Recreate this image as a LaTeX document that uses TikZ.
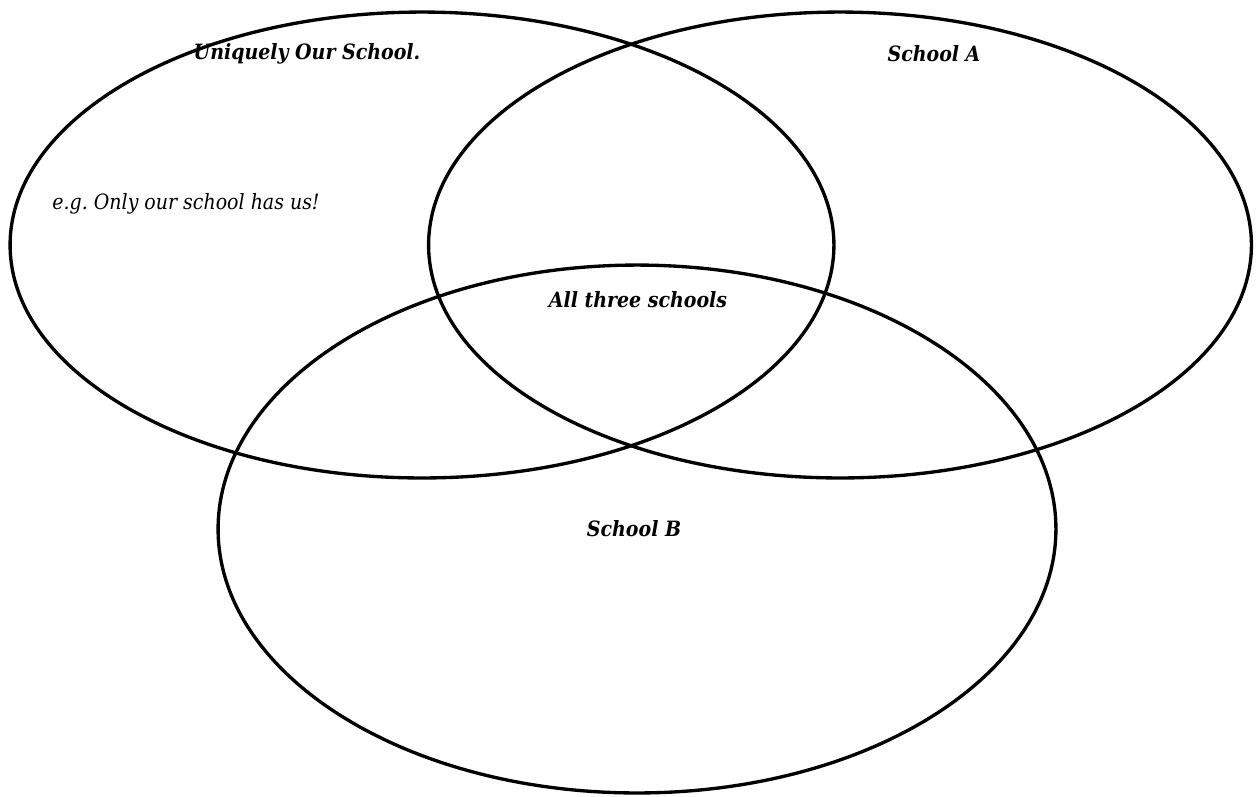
\documentclass[tikz,border=0pt]{standalone}
\usepackage{fontspec}
\setmainfont{DejaVu Serif Condensed}
\usetikzlibrary{shapes,positioning}

\begin{document}
\begin{tikzpicture}[
	x=0.02cm, y=-0.02cm,
	font=\fontsize{12}{14}\selectfont,
		set/.style={
			ellipse,
			draw,
			line width=1.9pt,
			inner sep=0pt
		},
		label/.style={
			font=\fontsize{12}{14}\selectfont\bfseries\itshape
		},
		note/.style={
			font=\fontsize{12}{14}\selectfont\itshape
		}
	]
	\useasboundingbox (0,0) rectangle (1256,796);
	% The three schools
	\node[set, minimum width=16.48cm, minimum height=9.32cm] (ours) at (422,245) {};
	\node[set, minimum width=16.46cm, minimum height=9.32cm] (schoola) at (840,245) {};
	\node[set, minimum width=16.76cm, minimum height=10.56cm] (schoolb) at (637,529) {};
	% Region labels
	\node[label] (ours_lbl) at (307,54) {Uniquely Our School.};
	\node[label] (a_lbl) at (934,54) {School A};
	\node[note] (example) at (186,204) {e.g.\ Only our school has us!};
	\node[label] (all_lbl) at (638,300) {All three schools};
	\node[label] (b_lbl) at (634,529) {School B};
\end{tikzpicture}
\end{document}
